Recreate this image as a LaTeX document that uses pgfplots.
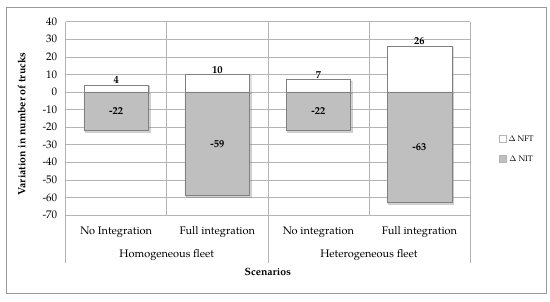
\documentclass[border=0pt]{standalone}
\usepackage{pgfplots}
\pgfplotsset{compat=1.18}
\usepackage{fontspec}
\setmainfont{TeX Gyre Pagella}
\usetikzlibrary{shadows}
\definecolor{barg}{RGB}{191,191,191}
\definecolor{edgeg}{RGB}{128,128,128}
\definecolor{gridg}{RGB}{180,180,180}
\begin{document}
\begin{tikzpicture}
\useasboundingbox (0pt,0pt) rectangle (550pt,301pt);
\draw[gray!80, line width=0.8pt] (6.7pt,7.7pt) rectangle (546pt,293.7pt);
\begin{axis}[
  at={(65.7pt,86pt)}, anchor=south west,
  scale only axis, width=404.3pt, height=193.3pt,
  xmin=-0.5, xmax=3.5, ymin=-70, ymax=40,
  ytick={-70,-60,...,40},
  yticklabels={-70,-60,-50,-40,-30,-20,-10,0,10,20,30,40},
  xtick={0,1,2,3},
  xticklabels={No Integration, Full integration, No integration, Full integration},
  extra x ticks={0.5,1.5,2.5},
  extra x tick labels={},
  extra x tick style={grid=major, major tick length=0pt},
  major tick length=0pt,
  ymajorgrids,
  grid style={gridg, line width=0.6pt},
  axis line style={gridg, line width=0.6pt},
  axis x line*=bottom, axis y line*=left,
  tick label style={font=\fontsize{11}{13}\selectfont},
  yticklabel style={xshift=-5pt},
  xticklabel style={yshift=-8pt},
  ylabel={\textbf{Variation in number of trucks}},
  ylabel style={font=\fontsize{10.5}{12}\selectfont, anchor=center, at={(axis description cs:-0.109,0.47)}},
  clip=false,
  legend style={at={(axis description cs:1.064,0.43)}, anchor=north west, draw=none,
    font=\fontsize{8}{9}\selectfont, row sep=9pt, fill=none,
    /tikz/every even column/.append style={column sep=2pt}},
]
\addplot[forget plot, ybar, bar width=0.64, bar shift=0pt, fill=white, draw=edgeg, line width=0.6pt,
  drop shadow={shadow xshift=1.2pt, shadow yshift=-1.2pt, opacity=0.25}]
  coordinates {(0,4) (1,10) (2,7) (3,26)};
\addplot[forget plot, ybar, bar width=0.64, bar shift=0pt, fill=barg, draw=edgeg, line width=0.6pt,
  drop shadow={shadow xshift=1.5pt, shadow yshift=-1.5pt, opacity=0.35}]
  coordinates {(0,-22) (1,-59) (2,-22) (3,-63)};
\addlegendimage{legend image code/.code={\draw[fill=white, draw=gridg, line width=0.5pt] (0pt,-3pt) rectangle (7pt,4pt);}}
\addlegendentry{$\Delta$ NFT}
\addlegendimage{legend image code/.code={\draw[fill=barg, draw=gridg, line width=0.5pt] (0pt,-3pt) rectangle (7pt,4pt);}}
\addlegendentry{$\Delta$ NIT}
% labels
\addplot[only marks, mark=none, forget plot, point meta=explicit symbolic,
  nodes near coords, nodes near coords style={anchor=south, font=\fontsize{10.5}{12}\selectfont\bfseries, inner sep=1pt}]
  coordinates {(0,4)[4] (1,10)[10] (2,7)[7] (3,26)[26]};
\addplot[only marks, mark=none, forget plot, point meta=explicit symbolic,
  nodes near coords, nodes near coords style={anchor=center, font=\fontsize{10.5}{12}\selectfont\bfseries}]
  coordinates {(0,-11)[-22] (1,-29.5)[-59] (2,-11)[-22] (3,-31.5)[-63]};
% group separators extending down
\draw[gridg, line width=0.6pt] (axis cs:-0.5,-70) -- ++(0pt,-48pt);
\draw[gridg, line width=0.6pt] (axis cs:1.5,-70) -- ++(0pt,-48pt);
\draw[gridg, line width=0.6pt] (axis cs:3.5,-70) -- ++(0pt,-48pt);
\draw[gridg, line width=0.6pt] (axis cs:3.5,-70) -- (axis cs:3.5,40);
\node[font=\fontsize{11}{13}\selectfont] at ([yshift=-40pt]axis cs:0.5,-70) {Homogeneous fleet};
\node[font=\fontsize{11}{13}\selectfont] at ([yshift=-40pt]axis cs:2.5,-70) {Heterogeneous fleet};
\node[font=\fontsize{10.5}{12}\selectfont\bfseries] at ([yshift=-57pt]axis cs:1.5,-70) {Scenarios};
\end{axis}
\end{tikzpicture}
\end{document}
